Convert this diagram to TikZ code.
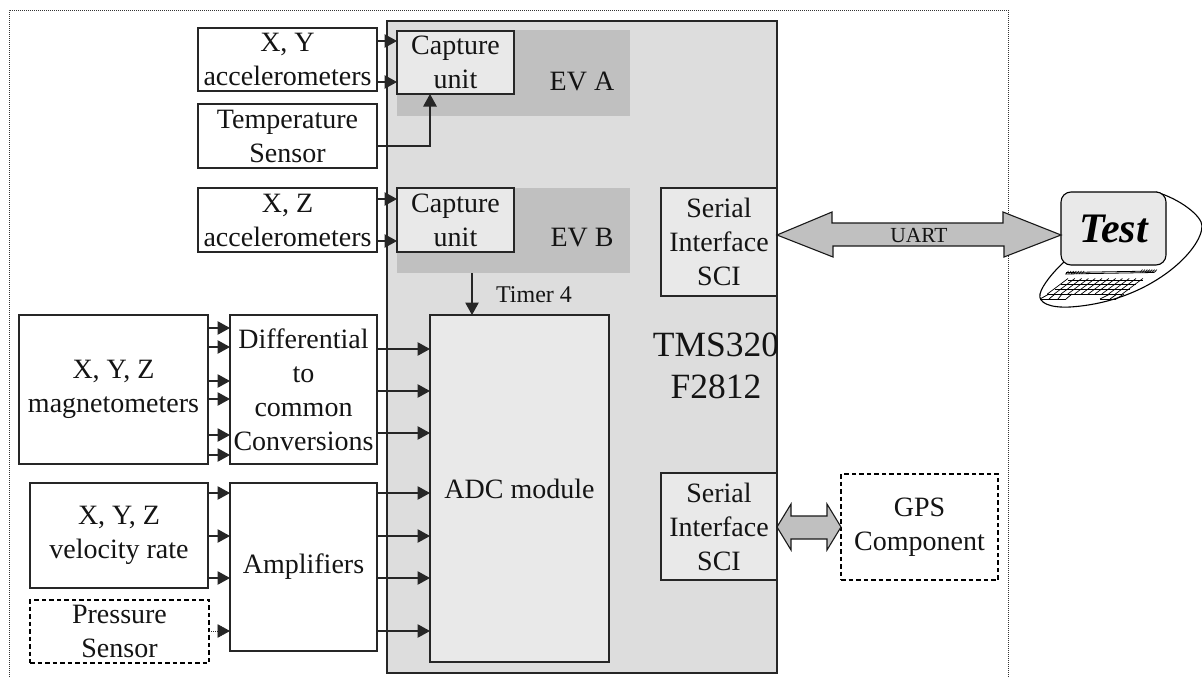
\documentclass[tikz,border=0pt]{standalone}
\usepackage{fontspec}
\setmainfont{Liberation Serif}
\usetikzlibrary{arrows.meta}
\definecolor{chipgray}{HTML}{DDDDDD}
\definecolor{evgray}{HTML}{C0C0C0}
\definecolor{lightbox}{HTML}{E9E9E9}
\tikzset{
  lab/.style={inner sep=0pt,align=center,font=\fontsize{28}{34}\selectfont,text=black!92},
  bx/.style={lab,draw=black!85,line width=1.1pt,outer sep=0pt},
  dashbx/.style={bx,draw=black,densely dashed,line width=1.3pt,dash pattern=on 4.5pt off 3pt},
  arr/.style={-{Triangle[length=12.5pt,width=13.5pt]},draw=black!85,line width=1.1pt},
  bigarrow/.style={draw=black!90,fill=evgray,line width=1.1pt,line join=miter},
  thin/.style={draw=black,line width=0.8pt}
}
\newcommand{\bxn}[6][]{%
  \pgfmathsetmacro{\cxv}{(#3+#5)/2}\pgfmathsetmacro{\cyv}{(#4+#6)/2}%
  \pgfmathsetmacro{\wv}{#5-#3}\pgfmathsetmacro{\hv}{#6-#4}%
  \node[minimum width=\wv pt,minimum height=\hv pt,#1] (#2) at (\cxv,\cyv)}
\newcommand{\hc}[3]{\draw[arr] (#1.east |- 0,#3) -- (#2.west |- 0,#3);}
\begin{document}
\begin{tikzpicture}[x=1pt,y=-1pt]
\useasboundingbox (0,0) rectangle (1202,677);
\fill[white] (0,0) rectangle (1202,677);
% outer dotted frame
\draw[black!80,line width=0.9pt,dash pattern=on 1pt off 1pt] (9,677) -- (9,10) -- (1008,10) -- (1008,677);
% chip
\bxn[bx,fill=chipgray]{chip}{387}{21}{777}{673} {};
\bxn[fill=evgray,inner sep=0pt]{eva}{397}{30}{630}{116} {};
\bxn[fill=evgray,inner sep=0pt]{evb}{397}{188}{630}{273} {};
\node[lab] (evatext) at (582,81) {EV A};
\node[lab] (evbtext) at (582,238) {EV B};
\bxn[bx,fill=lightbox]{capa}{397}{31}{514}{94} {Capture\\unit};
\bxn[bx,fill=lightbox]{capb}{397}{188}{514}{252} {Capture\\unit};
\bxn[bx,fill=lightbox]{adc}{430}{315}{609}{662} {ADC module};
\bxn[bx,fill=lightbox]{scia}{661}{188}{777}{296} {Serial\\Interface\\SCI};
\bxn[bx,fill=lightbox]{scib}{661}{473}{777}{580} {Serial\\Interface\\SCI};
\node[lab,font=\fontsize{24}{28}\selectfont] (timer) at (534,295) {Timer 4};
\node[lab,font=\fontsize{35.5}{42.5}\selectfont] (tms) at (716,366) {TMS320\\F2812};
% sensors
\bxn[bx]{xy}{198}{28}{377}{91} {X, Y\\[-0.5pt]accelerometers};
\bxn[bx]{temp}{198}{104}{377}{168} {Temperature\\Sensor};
\bxn[bx]{xz}{198}{188}{377}{252} {X, Z\\accelerometers};
\bxn[bx]{mag}{19}{315}{208}{464} {X, Y, Z\\magnetometers};
\bxn[bx]{diff}{230}{315}{377}{464} {Differential\\to\\common\\Conversions};
\bxn[bx]{vel}{30}{483}{208}{588} {X, Y, Z\\velocity rate};
\bxn[dashbx]{press}{30}{600}{209}{663} {Pressure\\Sensor};
\bxn[bx]{amp}{230}{483}{377}{651} {Amplifiers};
\bxn[dashbx]{gps}{841}{474}{998}{580} {GPS\\Component};
% connectors
\hc{xy}{capa}{41}
\hc{xy}{capa}{82}
\hc{xz}{capb}{199}
\hc{xz}{capb}{241}
\draw[arr] (temp.east |- 0,146) -| (capa.south -| 430,0);
\draw[arr] (evb.south -| 472,0) -- (adc.north -| 472,0);
\foreach \yy in {328,347,381,399,435,455} {\hc{mag}{diff}{\yy}}
\foreach \yy in {349,391,433} {\hc{diff}{adc}{\yy}}
\foreach \yy in {493,536,578} {\hc{vel}{amp}{\yy}}
\draw[arr,line width=0.7pt,dash pattern=on 1pt off 1pt] (press.east |- 0,631) -- (amp.west |- 0,631);
\foreach \yy in {493,536,578,631} {\hc{amp}{adc}{\yy}}
% computer
\draw[line width=1.1pt,black,fill=white] (1156,192) .. controls (1180,199) and (1202,216) .. (1202,226) .. controls (1202,250) and (1150,302) .. (1070,307) .. controls (1050,308) and (1038,303) .. (1040,294) .. controls (1042,285) and (1055,270) .. (1064,262);
\node[draw=black,line width=1.1pt,fill=lightbox,rounded corners=10pt,minimum width=105pt,minimum height=73pt,inner sep=0pt,outer sep=0pt,font=\fontsize{42}{42}\selectfont\bfseries\itshape] (screen) at (1113.5,228.5) {Test};
% keyboard
\draw[thin] (1066,272.5) -- (1156,271);
\draw[thin] (1065,274) -- (1154,272.5);
\foreach \i in {0,...,6} {\draw[line width=0.6pt] (1066+\i*2.6,274) -- ++(2.5,-3);}
\foreach \i in {0,...,6} {\draw[line width=0.6pt] (1140+\i*2.4,272.5) -- ++(2.5,-3);}
\foreach \vv/\ss in {0/1,4.5/1,9/1,14/1} {
  \draw[thin] ({1068-\vv*28/19},{280+\vv}) -- ++(75,0);
}
\draw[thin] (1040,299) -- (1066,299);
\draw[thin] (1100,299) -- (1116,299);
\foreach \i in {0,...,11} {
  \draw[line width=0.7pt] ({1068+\i*6.8},278.5) -- ({1068+\i*6.8-14*28/19},294);
}
\draw[thin] (1049,294) -- (1040,299);
\draw[thin] (1055,294) -- (1049,299);
\draw[thin] (1062,294) -- (1058,299) (1072,294) -- (1066,299);
\draw[thin] (1110,294) -- (1100,299) (1124,294) -- (1116,299) (1117,294) -- (1110,299);
% big arrows
\draw[bigarrow] (scia.east |- 0,235) -- ++(55,-23) -- ++(0,11) -- ++(171,0) -- ++(0,-11) -- (screen.west |- 0,235) -- ++(-57,22) -- ++(0,-11) -- ++(-171,0) -- ++(0,11) -- cycle;
\node[lab,font=\fontsize{21.5}{24}\selectfont] (uart) at (919,236) {UART};
\draw[bigarrow,fill=evgray] (scib.east |- 0,527) -- ++(14,-23) -- ++(0,12) -- ++(36,0) -- ++(0,-12) -- (gps.west |- 0,527) -- ++(-14,23) -- ++(0,-11) -- ++(-36,0) -- ++(0,11) -- cycle;
\end{tikzpicture}
\end{document}
